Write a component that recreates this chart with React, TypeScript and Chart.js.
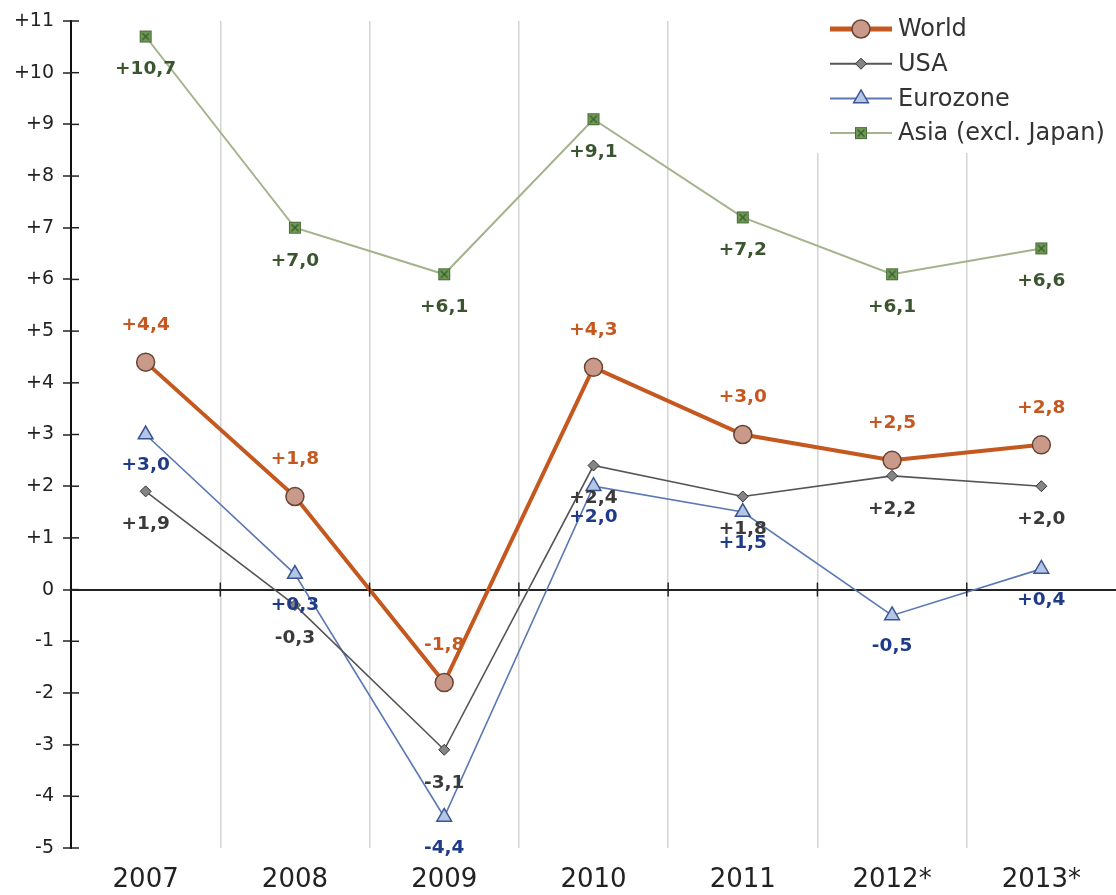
import React, { useEffect, useRef } from 'react';
import { Chart, registerables } from 'chart.js';

Chart.register(...registerables);

const categories = ['2007', '2008', '2009', '2010', '2011', '2012*', '2013*'];
const world = [4.4, 1.8, -1.8, 4.3, 3.0, 2.5, 2.8];
const usa = [1.9, -0.3, -3.1, 2.4, 1.8, 2.2, 2.0];
const eurozone = [3.0, 0.3, -4.4, 2.0, 1.5, -0.5, 0.4];
const asia = [10.7, 7.0, 6.1, 9.1, 7.2, 6.1, 6.6];
const seriesNames = ['World', 'USA', 'Eurozone', 'Asia (excl. Japan)'];
const yMin = -5;
const yMax = 11;

const FONT = '"DejaVu Sans", "Liberation Sans", Arial, sans-serif';

const fmtValue = (v: number) => (v > 0 ? '+' : '') + v.toFixed(1).replace('.', ',');
const fmtTick = (v: number) => (v > 0 ? '+' + v : String(v));

function makeAsiaMarker(): HTMLCanvasElement {
  const c = document.createElement('canvas');
  c.width = 14;
  c.height = 14;
  const g = c.getContext('2d')!;
  g.fillStyle = '#6e9a55';
  g.fillRect(1, 1, 12, 12);
  g.strokeStyle = '#4a6a38';
  g.lineWidth = 1;
  g.strokeRect(1.5, 1.5, 11, 11);
  g.beginPath();
  g.moveTo(3.5, 3.5);
  g.lineTo(10.5, 10.5);
  g.moveTo(10.5, 3.5);
  g.lineTo(3.5, 10.5);
  g.strokeStyle = '#3a5a2a';
  g.lineWidth = 1.3;
  g.stroke();
  return c;
}

const labelColors = ['#c4581f', '#3a3a3a', '#1f3b88', '#3b5530'];
const labelOffsets = [-37, 33, 31, 33];

const dataLabelPlugin = {
  id: 'dataLabels',
  afterDatasetsDraw(chart: any) {
    const ctx = chart.ctx;
    ctx.save();
    ctx.font = 'bold 18.5px ' + FONT;
    ctx.textAlign = 'center';
    ctx.textBaseline = 'middle';
    chart.data.datasets.forEach((ds: any, di: number) => {
      const meta = chart.getDatasetMeta(di);
      meta.data.forEach((pt: any, i: number) => {
        const v = ds.data[i] as number;
        ctx.fillStyle = labelColors[di];
        ctx.fillText(fmtValue(v), pt.x, pt.y + labelOffsets[di]);
      });
    });
    ctx.restore();
  },
};

const axisTicksPlugin = {
  id: 'axisTicks',
  afterDraw(chart: any) {
    const ctx = chart.ctx;
    const y = chart.scales.y;
    const x = chart.scales.x;
    ctx.save();
    ctx.strokeStyle = '#222';
    ctx.lineWidth = 1.5;
    y.ticks.forEach((t: any) => {
      const py = y.getPixelForValue(t.value);
      ctx.beginPath();
      ctx.moveTo(y.right, py);
      ctx.lineTo(y.right + 8, py);
      ctx.stroke();
    });
    const zy = y.getPixelForValue(0);
    for (let i = 0; i < categories.length - 1; i++) {
      const px = (x.getPixelForValue(i) + x.getPixelForValue(i + 1)) / 2;
      ctx.beginPath();
      ctx.moveTo(px, zy - 7);
      ctx.lineTo(px, zy + 7);
      ctx.stroke();
    }
    ctx.restore();
  },
};

function drawMarker(ctx: CanvasRenderingContext2D, ds: any, cx: number, cy: number) {
  const style = ds.pointStyle;
  const r = ds.pointRadius;
  ctx.save();
  if (style instanceof HTMLCanvasElement) {
    ctx.drawImage(style, cx - style.width / 2, cy - style.height / 2);
    ctx.restore();
    return;
  }
  ctx.fillStyle = ds.pointBackgroundColor;
  ctx.strokeStyle = ds.pointBorderColor;
  ctx.lineWidth = ds.pointBorderWidth;
  ctx.beginPath();
  if (style === 'circle') {
    ctx.arc(cx, cy, r, 0, Math.PI * 2);
  } else if (style === 'rectRot') {
    ctx.moveTo(cx, cy - r);
    ctx.lineTo(cx + r, cy);
    ctx.lineTo(cx, cy + r);
    ctx.lineTo(cx - r, cy);
    ctx.closePath();
  } else if (style === 'triangle') {
    ctx.moveTo(cx, cy - r);
    ctx.lineTo(cx + r * 0.866, cy + r * 0.5);
    ctx.lineTo(cx - r * 0.866, cy + r * 0.5);
    ctx.closePath();
  }
  ctx.fill();
  ctx.stroke();
  ctx.restore();
}

const legendPlugin = {
  id: 'customLegend',
  afterDraw(chart: any) {
    const ctx = chart.ctx;
    const area = chart.chartArea;
    const x0 = area.right - 286;
    const top = 29;
    const step = 34.7;
    ctx.save();
    ctx.fillStyle = '#ffffff';
    ctx.fillRect(x0 - 22, 0, chart.width - (x0 - 22), top + step * 3 + 20);
    chart.data.datasets.forEach((ds: any, i: number) => {
      const cy = top + step * i;
      const x1 = x0;
      const x2 = x0 + 62;
      ctx.strokeStyle = ds.borderColor;
      ctx.lineWidth = i === 0 ? 5 : 2;
      ctx.beginPath();
      ctx.moveTo(x1, cy);
      ctx.lineTo(x2, cy);
      ctx.stroke();
      drawMarker(ctx, ds, (x1 + x2) / 2, cy);
      ctx.fillStyle = '#333';
      ctx.font = '24px ' + FONT;
      ctx.textAlign = 'left';
      ctx.textBaseline = 'middle';
      ctx.fillText(ds.label, x2 + 6, cy + 1);
    });
    ctx.restore();
  },
};

export default function App() {
  const ref = useRef<HTMLCanvasElement | null>(null);

  useEffect(() => {
    document.body.style.margin = '0';
    if (!ref.current) return;
    const asiaMarker = makeAsiaMarker();
    const chart = new Chart(ref.current, {
      type: 'line',
      data: {
        labels: categories,
        datasets: [
          {
            label: seriesNames[0],
            data: world,
            borderColor: '#c4581f',
            borderWidth: 4,
            pointStyle: 'circle',
            pointRadius: 9,
            pointBackgroundColor: '#c99a8a',
            pointBorderColor: '#6b4333',
            pointBorderWidth: 1.5,
            tension: 0,
          },
          {
            label: seriesNames[1],
            data: usa,
            borderColor: '#555555',
            borderWidth: 1.6,
            pointStyle: 'rectRot',
            pointRadius: 5.5,
            pointBackgroundColor: '#858585',
            pointBorderColor: '#333333',
            pointBorderWidth: 1,
            tension: 0,
          },
          {
            label: seriesNames[2],
            data: eurozone,
            borderColor: '#5b78b4',
            borderWidth: 1.6,
            pointStyle: 'triangle',
            pointRadius: 8.5,
            pointBackgroundColor: '#b3c6e6',
            pointBorderColor: '#3b5592',
            pointBorderWidth: 1.5,
            tension: 0,
          },
          {
            label: seriesNames[3],
            data: asia,
            borderColor: '#a3b38b',
            borderWidth: 2,
            pointStyle: asiaMarker as any,
            pointRadius: 7,
            tension: 0,
          },
        ],
      },
      options: {
        animation: false,
        responsive: false,
        maintainAspectRatio: false,
        layout: { autoPadding: false, padding: { top: 21, right: 0, left: 0, bottom: 0 } },
        plugins: {
          legend: { display: false },
          tooltip: { enabled: false },
        },
        scales: {
          x: {
            type: 'category',
            offset: true,
            grid: {
              offset: true,
              color: (c: any) =>
                c.type !== 'tick' || c.index === 0 || c.index >= categories.length
                  ? 'rgba(0,0,0,0)'
                  : '#d4d4d4',
              lineWidth: 1.5,
              drawTicks: false,
            },
            border: { display: false },
            ticks: {
              font: { family: FONT, size: 26 },
              color: '#222',
              padding: 17,
              maxRotation: 0,
              autoSkip: false,
            },
            afterFit: (s: any) => {
              s.height = 47;
              s.paddingLeft = 0;
              s.paddingRight = 0;
            },
          },
          y: {
            min: yMin,
            max: yMax,
            ticks: {
              stepSize: 1,
              callback: (v: any) => fmtTick(Number(v)),
              font: { family: FONT, size: 19 },
              color: '#222',
              padding: 9,
            },
            grid: {
              color: (c: any) => (c.tick && c.tick.value === 0 ? '#222' : 'rgba(0,0,0,0)'),
              lineWidth: 2,
              tickColor: '#222',
              tickLength: 8,
              tickWidth: 1.5,
            } as any,
            border: { display: true, color: '#111', width: 2 },
            afterFit: (s: any) => {
              s.width = 71;
            },
          },
        },
      },
      plugins: [axisTicksPlugin, dataLabelPlugin, legendPlugin],
    });
    return () => chart.destroy();
  }, []);

  return (
    <div style={{ position: 'absolute', left: 0, top: 0, width: 1116, height: 895, background: '#fff' }}>
      <canvas ref={ref} width={1116} height={895} style={{ display: 'block' }} />
    </div>
  );
}
